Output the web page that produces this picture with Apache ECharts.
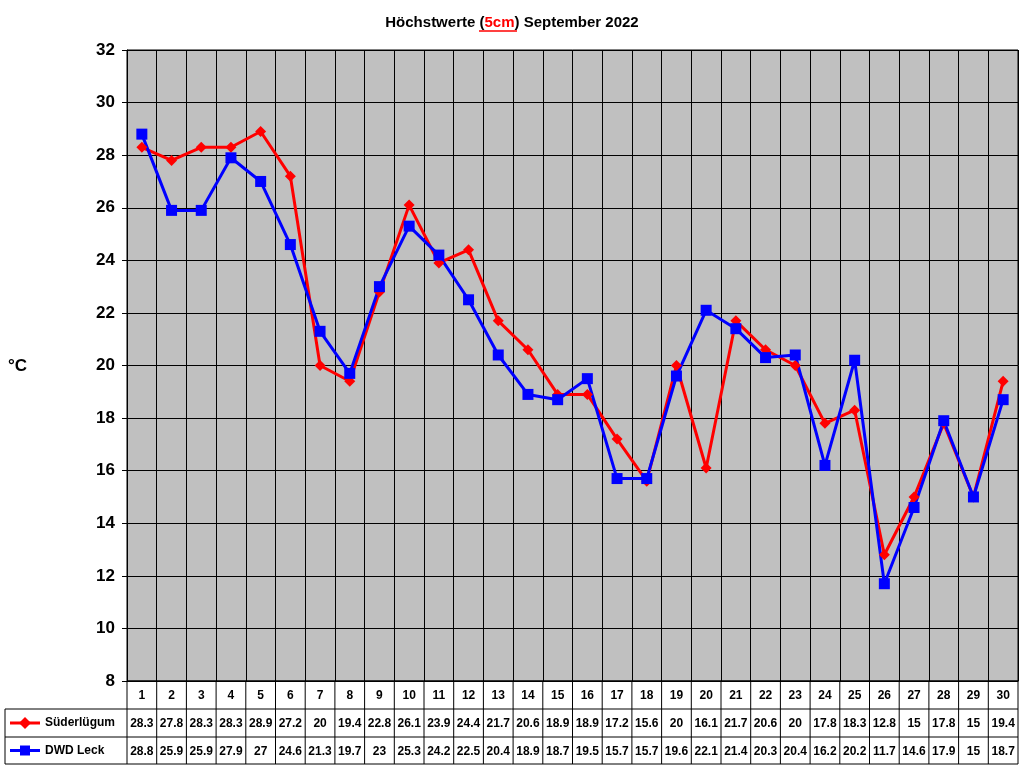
<!DOCTYPE html><html><head><meta charset="utf-8"><script src="https://cdn.jsdelivr.net/npm/echarts@6/dist/echarts.min.js"></script>
<style>body{margin:0;background:#fff}#c{width:1024px;height:768px}</style></head><body><div id="c"></div><script>
var days=[];for(var i=1;i<=30;i++)days.push(String(i));
var sued=[28.3,27.8,28.3,28.3,28.9,27.2,20,19.4,22.8,26.1,23.9,24.4,21.7,20.6,18.9,18.9,17.2,15.6,20,16.1,21.7,20.6,20,17.8,18.3,12.8,15,17.8,15,19.4];
var leck=[28.8,25.9,25.9,27.9,27,24.6,21.3,19.7,23,25.3,24.2,22.5,20.4,18.9,18.7,19.5,15.7,15.7,19.6,22.1,21.4,20.3,20.4,16.2,20.2,11.7,14.6,17.9,15,18.7];
var names=['Süderlügum','DWD Leck'];
var L=127,R=1018,T=50,B=681;
var ch=echarts.init(document.getElementById('c'));
function lab(d){return {fontFamily:'Arial',fontWeight:'bold',fontSize:12,color:'#000',interval:0,margin:9};}
var xa=function(data,off,show){return {type:'category',data:data,position:'bottom',offset:off,boundaryGap:true,
 axisLine:{show:show,lineStyle:{color:'#000'}},axisTick:{show:false},axisLabel:lab(),splitLine:{show:show,interval:0,lineStyle:{color:'#000'}}};};
var opt={animation:false,backgroundColor:'#fff',
 title:{text:'{a|Höchstwerte (}{b|5cm}{a|) September 2022}',left:'center',top:10,textStyle:{rich:{a:{fontFamily:'Arial',fontWeight:'bold',fontSize:15,color:'#000'},b:{fontFamily:'Arial',fontWeight:'bold',fontSize:15,color:'#f00',textBorderWidth:0}}}},
 grid:{left:L,right:1024-R,top:T,bottom:768-B,show:true,backgroundColor:'#c0c0c0',borderColor:'#000',borderWidth:1},
 xAxis:[xa(days,0,true),xa(sued.map(String),28,false),xa(leck.map(String),56,false)],
 yAxis:{type:'value',min:8,max:32,interval:2,axisLine:{show:true,lineStyle:{color:'#000'}},axisTick:{show:true,length:5,inside:false,lineStyle:{color:'#000'}},
  axisLabel:{fontFamily:'Arial',fontWeight:'bold',fontSize:17,color:'#000',margin:12},splitLine:{lineStyle:{color:'#000'}}},
 series:[
  {name:names[0],type:'line',data:sued,symbol:'diamond',symbolSize:11,itemStyle:{color:'#f00'},lineStyle:{color:'#f00',width:3}},
  {name:names[1],type:'line',data:leck,symbol:'rect',symbolSize:11,itemStyle:{color:'#00f'},lineStyle:{color:'#00f',width:3}}]};
ch.setOption(opt);
var g=[],cw=(R-L)/30,bl='#000';
function ln(x1,y1,x2,y2){g.push({type:'line',shape:{x1:x1,y1:y1,x2:x2,y2:y2},style:{stroke:bl,lineWidth:1},silent:true});}
var ys=[B,709,737,764];
for(var k=0;k<4;k++)ln(k==0?L:5,ys[k],R,ys[k]);
for(var j=0;j<=30;j++)ln(L+j*cw,B,L+j*cw,764);
ln(5,709,5,764);
var cols=['#f00','#00f'],sy=['diamond','rect'];
for(var r=0;r<2;r++){var yc=(ys[r+1]+ys[r+2])/2;
 g.push({type:'line',shape:{x1:10,y1:yc,x2:40,y2:yc},style:{stroke:cols[r],lineWidth:3}});
 if(r==0)g.push({type:'polygon',shape:{points:[[25,yc-6],[31,yc],[25,yc+6],[19,yc]]},style:{fill:cols[r]}});
 else g.push({type:'rect',shape:{x:20,y:yc-5,width:10,height:10},style:{fill:cols[r]}});
 g.push({type:'text',x:45,y:yc,style:{text:names[r],fontFamily:'Arial',fontWeight:'bold',fontSize:12,fill:'#000',verticalAlign:'middle'}});}
g.push({type:'text',x:8,y:366,style:{text:'°C',fontFamily:'Arial',fontWeight:'bold',fontSize:17,fill:'#000',verticalAlign:'middle'}});
g.push({type:'line',shape:{x1:479,y1:31,x2:517,y2:31},style:{stroke:'#f00',lineWidth:1.5}});
ch.setOption({graphic:g});
</script></body></html>
